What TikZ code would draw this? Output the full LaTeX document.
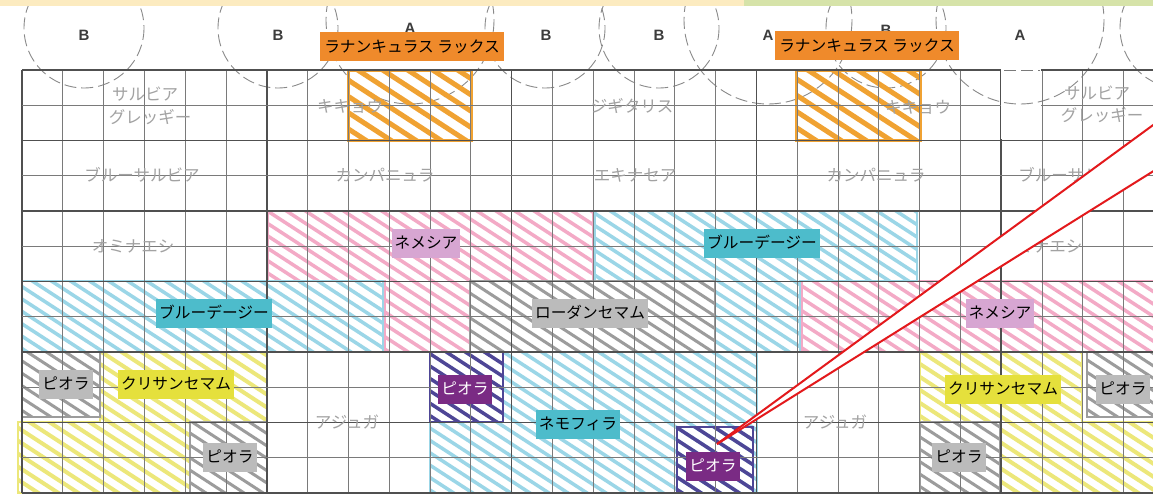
\documentclass[tikz,border=0pt]{standalone}
\usepackage{fontspec}
\setmainfont{Liberation Sans}
\newfontfamily\jp{Noto Sans CJK JP}
\definecolor{bandbeige}{HTML}{FCEBC0}
\definecolor{bandgreen}{HTML}{D6E3A9}
\definecolor{gridc}{HTML}{7A7A7A}
\definecolor{gridk}{HTML}{505050}
\definecolor{circc}{HTML}{8A8A8A}
\definecolor{handtxt}{HTML}{A2A2A2}
\definecolor{orHatch}{HTML}{F0A232}
\definecolor{orLab}{HTML}{EF8A2B}
\definecolor{pkHatch}{HTML}{F3AAC6}
\definecolor{pkLab}{HTML}{D7A6D2}
\definecolor{blHatch}{HTML}{9BD6E7}
\definecolor{blLab}{HTML}{4DBCCB}
\definecolor{gyHatch}{HTML}{9C9C9C}
\definecolor{gyLab}{HTML}{BBBBBB}
\definecolor{ylHatch}{HTML}{ECE77A}
\definecolor{ylLab}{HTML}{E5E03C}
\definecolor{puHatch}{HTML}{4E4696}
\definecolor{puLab}{HTML}{7A2B84}
\definecolor{callred}{HTML}{E3191C}
\definecolor{lettc}{HTML}{3C3C3C}
\newcommand\hatchreg[4]{%
  \begin{scope}
    \clip #3;
    \pgfmathsetmacro\hstep{2000/#2}
    \foreach \k in {0,...,#2}
      \draw[#1] ({-800+\k*\hstep},0) -- ++(900,585);
  \end{scope}
  \draw[#4] #3;}
\tikzset{
  lab/.style={font=\jp\fontsize{15.7}{16}\selectfont, inner xsep=3pt, inner ysep=0pt,
    minimum height=29pt, text height=13.5pt, text depth=2pt},
  hand/.style={font=\jp\fontsize{16.5}{17}\selectfont, text=handtxt, inner sep=0pt},
  letter/.style={font=\bfseries\fontsize{15}{15}\selectfont, text=lettc, inner sep=0pt},
  circB/.style={draw=circc, line width=0.9pt, dash pattern=on 12pt off 5pt},
  gthin/.style={draw=gridc, line width=1pt},
  gthick/.style={draw=gridk, line width=1.7pt},
}
\begin{document}
\begin{tikzpicture}[x=1pt,y=-1pt]
\useasboundingbox (0,0) rectangle (1153,495);
\fill[white] (0,0) rectangle (1153,495);
% planting circles
\begin{scope}
\clip (0,0) rectangle (1153,495);
\foreach \cx in {84,278,545,659,886,1180} \draw[circB] (\cx,28) circle (60);
\foreach \cx in {410,768,1020} \draw[circB] (\cx,20) circle (84);
\end{scope}
\fill[bandbeige] (0,0) rectangle (744,6);
\fill[bandgreen] (744,0) rectangle (1153,6);
% hatched regions
\hatchreg{orHatch, line width=5pt}{80}{(348,70) rectangle (471,140)}{orHatch, line width=3pt}
\hatchreg{orHatch, line width=5pt}{80}{(796,70) rectangle (920,140)}{orHatch, line width=3pt}
\hatchreg{pkHatch, line width=3.5pt}{105}{(268,211) -- (593,211) -- (593,281) -- (470,281) -- (470,352) -- (385,352) -- (385,281) -- (268,281) -- cycle}{pkHatch, line width=2pt}
\hatchreg{pkHatch, line width=3.5pt}{105}{(802,281) rectangle (1160,352)}{pkHatch, line width=2pt}
\hatchreg{blHatch, line width=3.5pt}{105}{(22,281) rectangle (383,352)}{blHatch, line width=2.5pt}
\hatchreg{blHatch, line width=3.5pt}{105}{(595,211) -- (917,211) -- (917,281) -- (800,281) -- (800,352) -- (715,352) -- (715,281) -- (595,281) -- cycle}{blHatch, line width=2.5pt}
\hatchreg{gyHatch, line width=3pt}{105}{(470,281) rectangle (715,352)}{gyHatch, line width=1.5pt}
\hatchreg{ylHatch, line width=4pt}{100}{(100,352) -- (267,352) -- (267,422) -- (190,422) -- (190,493) -- (18,493) -- (18,422) -- (100,422) -- cycle}{ylHatch, line width=2.5pt}
\hatchreg{ylHatch, line width=4pt}{100}{(920,352) -- (1082,352) -- (1082,422) -- (1160,422) -- (1160,493) -- (1000,493) -- (1000,422) -- (920,422) -- cycle}{ylHatch, line width=2.5pt}
\hatchreg{gyHatch, line width=3pt}{105}{(22,352) rectangle (100,417)}{gyHatch, line width=2pt}
\hatchreg{gyHatch, line width=3pt}{105}{(190,422) rectangle (267,493)}{gyHatch, line width=2pt}
\hatchreg{gyHatch, line width=3pt}{105}{(920,422) rectangle (1000,493)}{gyHatch, line width=2pt}
\hatchreg{gyHatch, line width=3pt}{105}{(1087,352) rectangle (1160,417)}{gyHatch, line width=2pt}
\hatchreg{blHatch, line width=3.5pt}{105}{(503,352) -- (757,352) -- (757,493) -- (430,493) -- (430,422) -- (503,422) -- cycle}{blHatch, line width=2.5pt}
\hatchreg{puHatch, line width=3.5pt}{105}{(430,352) rectangle (503,422)}{puHatch, line width=2pt}
\hatchreg{puHatch, line width=3.5pt}{105}{(677,427) rectangle (753,493)}{puHatch, line width=2pt}
% grid
\begin{scope}
\clip (0,0) rectangle (1153,495);
\foreach \i in {0,...,28} \draw[gthin] ({22+40.8*\i},70) -- ({22+40.8*\i},493);
\foreach \i in {0,6,12,18,24} \draw[gthick] ({22+40.8*\i},70) -- ({22+40.8*\i},493);
\foreach \j in {1,3,...,11} \draw[gthin] (22,{70+35.25*\j}) -- (1160,{70+35.25*\j});
\foreach \j in {0,2,...,12} \draw[gthick] (22,{70+35.25*\j}) -- (1160,{70+35.25*\j});
\end{scope}
% open cell in the top rows
\fill[white] (1001,68) rectangle (1041,139);
\draw[gthin, dash pattern=on 12pt off 5pt] (1004,70) -- (1040,70);
\begin{scope}
\clip (1001,68) rectangle (1041,139);
\draw[circB] (1020,20) circle (84);
\end{scope}
% planting letters
\node[letter] (b1) at (84,35) {B};
\node[letter] (b2) at (278,35) {B};
\node[letter] (a1) at (410,28) {A};
\node[letter] (b3) at (546,35) {B};
\node[letter] (b4) at (659,35) {B};
\node[letter] (a2) at (768,35) {A};
\node[letter] (b5) at (886,30) {B};
\node[letter] (a3) at (1020,35) {A};
% handwritten plant names
\node[hand] (t1) at (145,94) {サルビア};
\node[hand] (t2) at (150,117) {グレッギー};
\node[hand] (t3) at (350,106) {キキョウ};
\node[hand] (t4) at (632,106) {ジギタリス};
\node[hand] (t5) at (918,107) {キキョウ};
\node[hand] (t6) at (1097,93) {サルビア};
\node[hand] (t7) at (1102,115) {グレッギー};
\node[hand] (t8) at (142,175) {ブルーサルビア};
\node[hand] (t9) at (385,175) {カンパニュラ};
\node[hand] (t10) at (635,175) {エキナセア};
\node[hand] (t11) at (876,175) {カンパニュラ};
\node[hand] (t12) at (1076,175) {ブルーサルビア};
\node[hand] (t13) at (133,246) {オミナエシ};
\node[hand] (t14) at (1041,246) {オミナエシ};
\node[hand] (t15) at (347,422) {アジュガ};
\node[hand] (t16) at (835,422) {アジュガ};
% callout wedge
\coordinate (apex) at (717,444);
\coordinate (w1) at (1160,120);
\coordinate (w2) at (1160,167);
\fill[white] (apex) -- (w1) -- (w2) -- cycle;
\draw[callred, line width=2pt] (apex) -- (w1);
\draw[callred, line width=2pt] (apex) -- (w2);
% labels
\node[lab, fill=orLab, inner xsep=4pt] (l1) at (412,47) {ラナンキュラス ラックス};
\node[lab, fill=orLab, inner xsep=4pt] (l2) at (867,46) {ラナンキュラス ラックス};
\node[lab, fill=pkLab] (l3) at (426,243) {ネメシア};
\node[lab, fill=pkLab] (l4) at (1000,313) {ネメシア};
\node[lab, fill=blLab] (l5) at (214,313) {ブルーデージー};
\node[lab, fill=blLab] (l6) at (762,243) {ブルーデージー};
\node[lab, fill=gyLab] (l7) at (590,313) {ローダンセマム};
\node[lab, fill=gyLab] (l8) at (66,384) {ピオラ};
\node[lab, fill=gyLab] (l9) at (230,457) {ピオラ};
\node[lab, fill=gyLab] (l10) at (959,457) {ピオラ};
\node[lab, fill=gyLab] (l11) at (1123,389) {ピオラ};
\node[lab, fill=ylLab] (l12) at (176,384) {クリサンセマム};
\node[lab, fill=ylLab] (l13) at (1003,389) {クリサンセマム};
\node[lab, fill=blLab] (l14) at (578,424) {ネモフィラ};
\node[lab, fill=puLab, text=white] (l15) at (465,389) {ピオラ};
\node[lab, fill=puLab, text=white] (l16) at (713,466) {ピオラ};
\end{tikzpicture}
\end{document}
